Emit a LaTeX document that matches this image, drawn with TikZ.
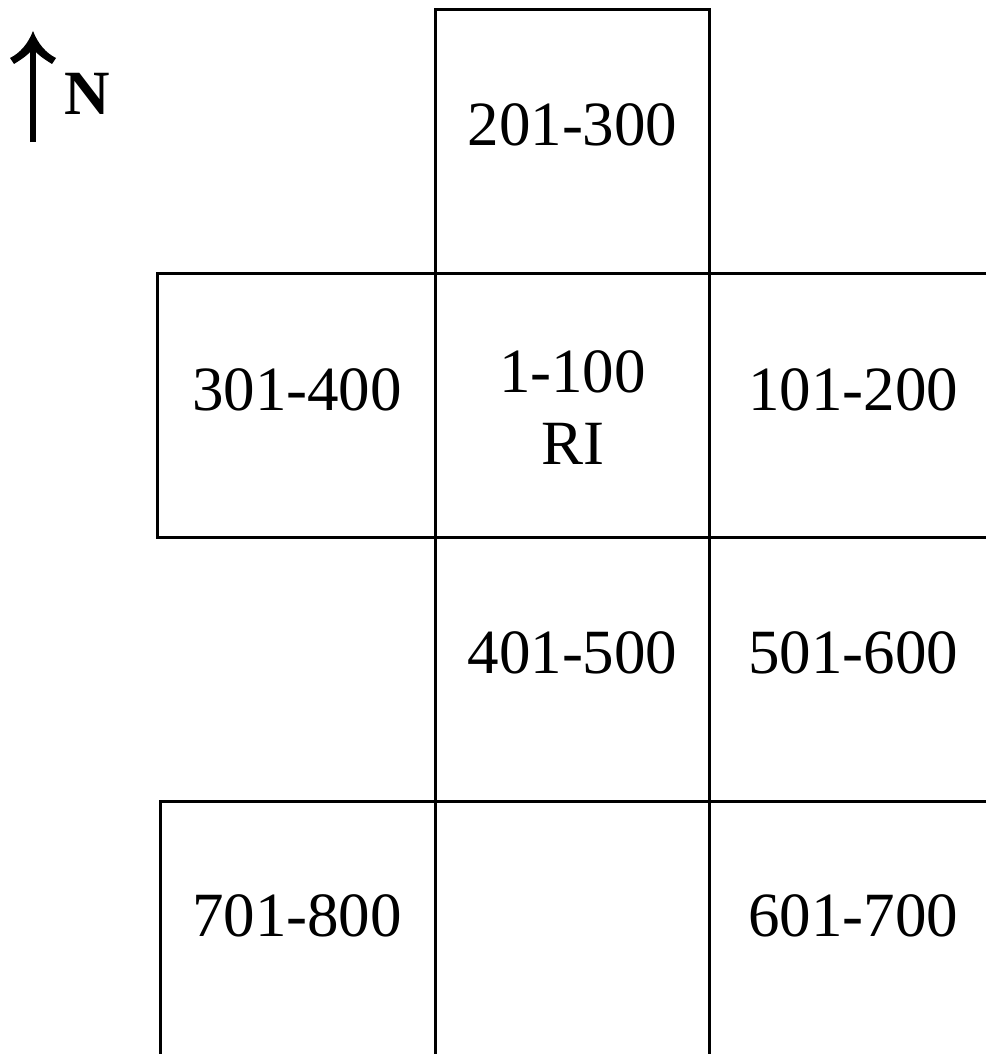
\documentclass[tikz,border=0pt]{standalone}
\usepackage{fontspec}
\setmainfont{Liberation Serif}
\begin{document}
\begin{tikzpicture}[x=1pt,y=-1pt,
  grid/.style={line width=3pt,line join=miter,line cap=butt},
  lbl/.style={font=\fontsize{63}{72}\selectfont,inner sep=0pt,anchor=base},
  lbl2/.style={font=\fontsize{63}{72}\selectfont,inner sep=0pt,align=center}]
\useasboundingbox[fill=white] (0,0) rectangle (986,1054);
% grid lines
\draw[grid] (435,1054) -- (435,10) -- (709,10) -- (709,1054);
\draw[grid] (986,273) -- (157,273) -- (157,537) -- (986,537);
\draw[grid] (986,801) -- (160,801) -- (160,1054);
% north arrow
\draw[line width=6.5pt] (33,142) -- (33,46);
\fill (33,31) .. controls (38,44) and (46,53) .. (56,58) -- (52,64)
  .. controls (44,59) and (38,55) .. (33,49)
  .. controls (28,55) and (22,59) .. (14,64) -- (10,58)
  .. controls (20,53) and (28,44) .. (33,31) -- cycle;
\node[lbl,font=\fontsize{63}{72}\selectfont\bfseries] (north) at (87.5,115) {N};
% labels
\node[lbl] (z201) at (572.5,146) {201-300};
\node[lbl] (z301) at (297,410) {301-400};
\node[lbl2] (z1) at (572.5,407.7) {1-100\\RI};
\node[lbl] (z101) at (853,410) {101-200};
\node[lbl] (z401) at (572.5,673) {401-500};
\node[lbl] (z501) at (853,673) {501-600};
\node[lbl] (z701) at (297,936) {701-800};
\node[lbl] (z601) at (853,936) {601-700};
\end{tikzpicture}
\end{document}
